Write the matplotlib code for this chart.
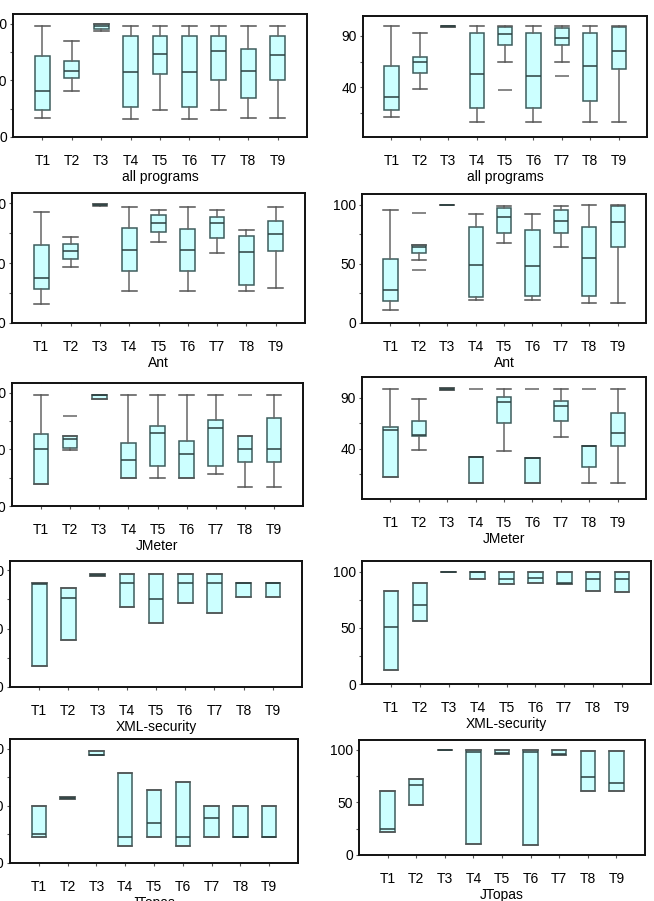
import matplotlib
matplotlib.use("Agg")
import matplotlib.pyplot as plt

plt.rcParams['font.family'] = ['Liberation Sans', 'DejaVu Sans']

tests = ["T1", "T2", "T3", "T4", "T5", "T6", "T7", "T8", "T9"]

# box statistics per test: (whislo, q1, med, q3, whishi)
all_left = [(16.6, 23.4, 40.2, 71.3, 98.2), (40.2, 51.8, 58.3, 67.5, 85.2), (94.0, 95.5, 98.0, 99.7, 99.7),
            (15.7, 26.9, 57.1, 89.6, 98.2), (23.4, 55.3, 73.1, 89.6, 98.2), (15.7, 26.9, 57.1, 89.6, 98.2),
            (23.4, 50.3, 75.7, 89.6, 98.2), (17.2, 34.3, 58.3, 77.8, 98.2), (17.2, 50.3, 72.5, 89.6, 98.2)]
all_right = [(11.6, 18.1, 30.3, 61.0, 99.4), (38.4, 54.2, 65.2, 70.0, 92.9), (98.7, 99.0, 99.5, 99.8, 100),
             (6.8, 20.0, 52.9, 92.9, 99.7), (64.8, 81.3, 91.9, 98.7, 99.7), (6.8, 20.3, 51.3, 92.9, 99.7),
             (64.8, 81.3, 88.0, 98.0, 99.7), (6.8, 26.5, 61.3, 92.9, 99.7), (6.8, 58.1, 75.8, 98.7, 99.7)]
all_right_fliers = {4: [37.4], 6: [51.6]}

ant_left = [(15.9, 28.5, 37.2, 64.8, 92.7), (46.6, 53.6, 59.8, 65.6, 71.8), (97.8, 98.0, 98.6, 99.2, 99.2),
            (26.8, 43.3, 61.2, 79.0, 96.4), (67.3, 76.0, 83.8, 89.9, 94.4), (26.8, 43.3, 61.2, 78.7, 96.4),
            (58.7, 70.7, 83.2, 88.8, 94.4), (26.8, 31.3, 58.9, 72.9, 77.9), (29.3, 60.3, 74.3, 85.2, 96.9)]
ant_right = [(11.0, 18.7, 27.8, 54.1, 95.8), (53.8, 58.9, 64.3, 66.0, 66.0), (100, 100, 100, 100, 100),
             (19.3, 22.1, 49.3, 81.6, 92.4), (68.0, 76.2, 89.5, 97.2, 98.9), (19.3, 22.9, 47.9, 79.0, 92.1),
             (64.6, 75.9, 86.7, 96.0, 98.9), (17.0, 22.7, 55.2, 81.0, 100), (17.0, 64.0, 85.3, 99.4, 100)]
ant_right_fliers = {1: [93.2, 45.3]}

jmeter_left = [(19.6, 19.6, 50.1, 63.3, 97.9), (49.6, 51.3, 59.5, 61.9, 61.9), (94.4, 94.4, 97.9, 97.9, 97.9),
               (24.3, 24.3, 40.5, 56.0, 97.9), (24.3, 34.9, 64.2, 70.7, 97.9), (24.3, 24.3, 45.5, 56.9, 97.9),
               (27.9, 34.9, 68.9, 76.0, 97.9), (16.7, 39.0, 50.1, 61.9, 61.9), (16.7, 39.0, 50.1, 77.7, 97.9)]
jmeter_left_fliers = {1: [79.2], 7: [97.9]}
jmeter_right = [(12.7, 12.7, 57.9, 61.1, 98.8), (38.4, 52.7, 53.5, 67.3, 89.0), (97.8, 97.8, 98.8, 99.4, 99.4),
                (6.6, 6.6, 32.0, 32.4, 32.4), (37.7, 65.0, 86.1, 90.3, 98.8), (6.6, 6.6, 31.0, 31.2, 31.2),
                (51.7, 67.3, 81.6, 87.1, 98.8), (6.6, 22.1, 42.6, 42.9, 42.9), (6.6, 42.9, 55.9, 74.7, 98.8)]
jmeter_right_fliers = {3: [98.8], 5: [98.8], 7: [98.8]}

xml_left = [(17.7, 17.7, 87.7, 88.9, 88.9), (39.9, 39.9, 75.8, 84.9, 84.9), (94.9, 94.9, 95.6, 96.3, 96.3),
            (68.1, 68.1, 89.2, 96.3, 96.3), (55.0, 55.0, 74.9, 96.3, 96.3), (71.8, 71.8, 89.2, 96.3, 96.3),
            (63.2, 63.2, 89.2, 96.3, 96.3), (76.6, 76.6, 89.2, 89.2, 89.2), (76.6, 76.6, 89.2, 89.2, 89.2)]
xml_right = [(12.8, 12.8, 50.3, 83.0, 83.0), (55.7, 55.7, 70.5, 90.2, 90.2), (100, 100, 100, 100, 100),
             (93.8, 93.8, 100, 100, 100), (89.0, 89.0, 93.2, 100, 100), (90.2, 90.2, 94.6, 100, 100),
             (89.0, 89.0, 89.6, 100, 100), (82.7, 82.7, 93.8, 100, 100), (81.5, 81.5, 93.8, 100, 100)]

jtopas_left = [(22.7, 22.7, 25.1, 49.9, 49.9), (56.0, 56.0, 56.9, 57.4, 57.4), (94.2, 94.2, 94.2, 97.7, 97.7),
               (14.9, 14.9, 22.7, 78.7, 78.7), (22.7, 22.7, 34.7, 64.1, 64.1), (14.9, 14.9, 22.7, 71.1, 71.1),
               (22.7, 22.7, 39.7, 49.9, 49.9), (22.7, 22.7, 22.7, 49.9, 49.9), (22.7, 22.7, 22.7, 49.9, 49.9)]
jtopas_right = [(21.6, 21.6, 25.1, 61.3, 61.3), (47.3, 47.3, 66.7, 72.1, 72.1), (100, 100, 100, 100, 100),
                (10.2, 10.2, 97.8, 100, 100), (96.2, 96.2, 96.8, 100, 100), (9.8, 9.8, 97.8, 100, 100),
                (95.6, 95.6, 96.2, 100, 100), (61.3, 61.3, 74.0, 98.7, 98.7), (61.3, 61.3, 68.9, 98.7, 98.7)]

ticks_0_100 = [0, 25, 50, 75, 100]
labels_0_100 = ["0", "", "50", "", "100"]
ticks_15_90 = [15, 40, 65, 90]
labels_15_90 = ["", "40", "", "90"]

W, H = 654, 901
fig = plt.figure(figsize=(W / 100, H / 100), dpi=100)

# (title, stats, fliers, yticks, ylabels, ylim, [left, top, right, bottom] in px)
panels = [
    ("all programs", all_left, {}, ticks_0_100, labels_0_100, (0, 108.6), [13, 14, 307, 137]),
    ("all programs", all_right, all_right_fliers, ticks_15_90, labels_15_90, (-8.1, 109.4), [363, 16, 647, 137]),
    ("Ant", ant_left, {}, ticks_0_100, labels_0_100, (0, 108.4), [12, 193, 305, 323]),
    ("Ant", ant_right, ant_right_fliers, ticks_0_100, labels_0_100, (0, 109.3), [362, 194, 646, 323]),
    ("JMeter", jmeter_left, jmeter_left_fliers, ticks_0_100, labels_0_100, (0, 108.5), [12, 383, 303, 506]),
    ("JMeter", jmeter_right, jmeter_right_fliers, ticks_15_90, labels_15_90, (-9, 110.1), [362, 377, 646, 499]),
    ("XML-security", xml_left, {}, ticks_0_100, labels_0_100, (0, 107.7), [10, 561, 302, 687]),
    ("XML-security", xml_right, {}, ticks_0_100, labels_0_100, (0, 109.5), [362, 561, 651, 684]),
    ("JTopas", jtopas_left, {}, ticks_0_100, labels_0_100, (0, 108.5), [10, 739, 298, 863]),
    ("JTopas", jtopas_right, {}, ticks_0_100, labels_0_100, (0, 109.5), [359, 740, 645, 855]),
]

edge = "#3d5c5c"
for title, stats, fliers, yt, yl, ylim, (l, t, r, b) in panels:
    ax = fig.add_axes([l / W, 1 - b / H, (r - l) / W, (b - t) / H])
    bstats = []
    for i, (lo, q1, med, q3, hi) in enumerate(stats):
        bstats.append({"whislo": lo, "q1": q1, "med": med, "q3": q3, "whishi": hi,
                       "fliers": fliers.get(i, []), "label": tests[i]})
    ax.bxp(bstats, positions=range(1, 10), widths=0.5, capwidths=0.5, patch_artist=True,
           boxprops=dict(facecolor="#ccffff", edgecolor=edge, linewidth=1.1),
           medianprops=dict(color="#2b4040", linewidth=1.1),
           whiskerprops=dict(color="#666666", linewidth=1.1),
           capprops=dict(color="#555555", linewidth=1.1),
           flierprops=dict(marker="_", markersize=10, markeredgecolor="#666666", markeredgewidth=1.1))
    ax.set_xlim(0, 10)
    ax.set_ylim(*ylim)
    ax.set_yticks(yt)
    ax.set_yticklabels(yl)
    ax.set_xlabel(title, fontsize=10, labelpad=2)
    ax.tick_params(axis="x", length=2.5, pad=9.5, labelsize=10, color="#555555")
    ax.tick_params(axis="y", length=2.5, pad=2, labelsize=10, color="#555555")
    for s in ax.spines.values():
        s.set_linewidth(1.4)
        s.set_color("#111111")

fig.savefig("out.png", dpi=100)
